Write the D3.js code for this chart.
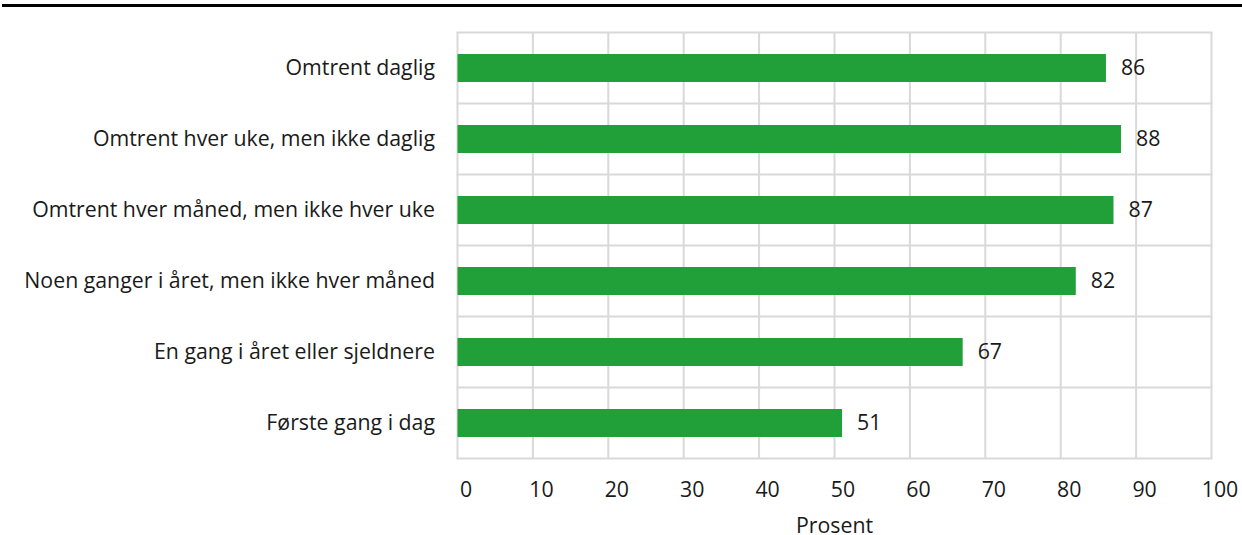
<!DOCTYPE html>
<html>
<head>
<meta charset="utf-8">
<script src="https://cdn.jsdelivr.net/npm/d3@7"></script>
<style>
  html, body { margin: 0; padding: 0; background: #fff; }
  svg { display: block; }
  text { font-family: "Open Sans", sans-serif; fill: #1a1a1a; }
</style>
</head>
<body>
<svg id="chart" width="1242" height="535"></svg>
<script>
// Frequency categories and share (percent)
const categories = [
  "Omtrent daglig",
  "Omtrent hver uke, men ikke daglig",
  "Omtrent hver måned, men ikke hver uke",
  "Noen ganger i året, men ikke hver måned",
  "En gang i året eller sjeldnere",
  "Første gang i dag"
];
const values = [86, 88, 87, 82, 67, 51];
const xTicks = [0, 10, 20, 30, 40, 50, 60, 70, 80, 90, 100];
const xTitle = "Prosent";

const FS = 21.3;
const svg = d3.select("#chart");
const W = 1242, H = 535;
const m = { left: 457.5, right: 1211.5, top: 32.5, bottom: 458.5 };

// Top rule
svg.append("rect").attr("x", 2).attr("y", 4).attr("width", W - 2).attr("height", 3).attr("fill", "#000");

const x = d3.scaleLinear().domain([0, 100]).range([m.left, m.right]);
const y = d3.scaleBand().domain(categories).range([m.top, m.bottom]).paddingInner(0).paddingOuter(0);

const grid = svg.append("g").attr("stroke", "#d9d9d9").attr("stroke-width", 2);
// vertical grid lines
grid.selectAll("line.v").data(xTicks).join("line")
  .attr("x1", d => x(d)).attr("x2", d => x(d))
  .attr("y1", m.top).attr("y2", m.bottom);
// horizontal lines at category boundaries
const bounds = categories.map(c => y(c)).concat([m.bottom]);
grid.selectAll("line.h").data(bounds).join("line")
  .attr("x1", m.left - 1).attr("x2", m.right + 1)
  .attr("y1", d => d).attr("y2", d => d);

// Bars
const barH = 28;
svg.append("g").selectAll("rect").data(values).join("rect")
  .attr("x", x(0))
  .attr("y", (d, i) => y(categories[i]) + y.bandwidth() / 2 - barH / 2)
  .attr("width", d => x(d) - x(0))
  .attr("height", barH)
  .attr("fill", "#21a03a");

// Value labels
svg.append("g").selectAll("text").data(values).join("text")
  .attr("x", d => x(d) + 15)
  .attr("y", (d, i) => y(categories[i]) + y.bandwidth() / 2)
  .attr("dy", "0.35em")
  .attr("font-size", FS)
  .text(d => d);

// Category labels
svg.append("g").selectAll("text").data(categories).join("text")
  .attr("x", 435)
  .attr("y", d => y(d) + y.bandwidth() / 2)
  .attr("dy", "0.35em")
  .attr("text-anchor", "end")
  .attr("font-size", FS)
  .text(d => d);

// X axis tick labels
const xAxis = d3.axisBottom(x).tickValues(xTicks).tickSize(0).tickPadding(0);
const ax = svg.append("g").attr("transform", `translate(0,${m.bottom})`).call(xAxis);
ax.select(".domain").remove();
ax.selectAll("text")
  .attr("font-size", FS)
  .attr("font-family", "Open Sans, sans-serif")
  .attr("fill", "#1a1a1a")
  .attr("x", 8)
  .attr("y", 31)
  .attr("dy", "0.35em");

// Axis title
svg.append("text")
  .attr("x", (m.left + m.right) / 2)
  .attr("y", 533)
  .attr("text-anchor", "middle")
  .attr("font-size", FS)
  .text(xTitle);
</script>
</body>
</html>
